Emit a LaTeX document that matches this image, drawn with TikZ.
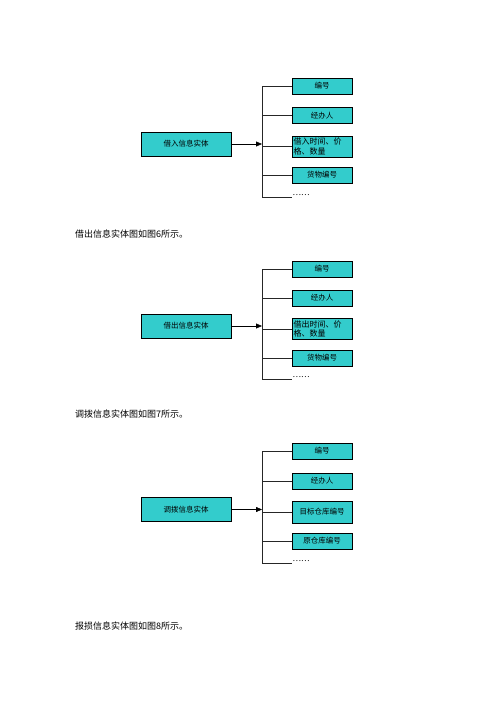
\documentclass[tikz,border=0pt]{standalone}
\usepackage{fontspec}
\setmainfont{Noto Sans CJK SC}
\usetikzlibrary{arrows.meta}
\definecolor{boxteal}{RGB}{51,204,204}

\begin{document}
\begin{tikzpicture}[x=1pt,y=-1pt,
  entity/.style={draw,fill=boxteal,minimum width=90pt,minimum height=24pt,inner sep=0pt,font=\fontsize{7.5}{9}\selectfont},
  attr/.style={draw,fill=boxteal,minimum width=60pt,minimum height=16pt,inner sep=0pt,font=\fontsize{7.5}{9}\selectfont},
  attrtall/.style={attr,minimum height=21pt,text width=57pt,align=left,font=\fontsize{8}{9.5}\selectfont},
  more/.style={anchor=west,inner sep=0.5pt,font=\fontsize{8}{9}\selectfont},
  branch/.style={line width=0.8pt,black!85},
  caption/.style={anchor=west,inner sep=0pt,font=\fontsize{9}{11}\selectfont}]
  \useasboundingbox (0,0) rectangle (500,707);

  % borrow-in entity
  \node[entity] (jr) at (186,144) {借入信息实体};
  \node[attr] (jr1) at (322,86) {编号};
  \node[attr] (jr2) at (322,115.5) {经办人};
  \node[attrtall] (jr3) at (322,146.5) {借入时间、价\\格、数量};
  \node[attr] (jr4) at (322,175) {货物编号};
  \node[more] (jr5) at (292,195) {……};
  \coordinate (jrt) at (262,86);
  \coordinate (jrb) at (262,197);
  \draw[branch] (jrt) -- (jrb);
  \draw[branch] (jr1.west -| jrt) -- (jr1.west);
  \draw[branch] (jr2.west -| jrt) -- (jr2.west);
  \draw[branch] (jr3.west -| jrt) -- (jr3.west);
  \draw[branch] (jr4.west -| jrt) -- (jr4.west);
  \draw[branch] (jrb) -- (jrb -| jr5.west);
  \draw[-{Triangle[length=6pt,width=5pt]}] (jr.east) -- (jr.east -| jrt);

  \node[caption] (cap6) at (75,234) {借出信息实体图如图6所示。};

  % borrow-out entity
  \node[entity] (jc) at (186,326) {借出信息实体};
  \node[attr] (jc1) at (322,269) {编号};
  \node[attr] (jc2) at (322,298) {经办人};
  \node[attrtall] (jc3) at (322,329) {借出时间、价\\格、数量};
  \node[attr] (jc4) at (322,358) {货物编号};
  \node[more] (jc5) at (292,377) {……};
  \coordinate (jct) at (262,269);
  \coordinate (jcb) at (262,379);
  \draw[branch] (jct) -- (jcb);
  \draw[branch] (jc1.west -| jct) -- (jc1.west);
  \draw[branch] (jc2.west -| jct) -- (jc2.west);
  \draw[branch] (jc3.west -| jct) -- (jc3.west);
  \draw[branch] (jc4.west -| jct) -- (jc4.west);
  \draw[branch] (jcb) -- (jcb -| jc5.west);
  \draw[-{Triangle[length=6pt,width=5pt]}] (jc.east) -- (jc.east -| jct);

  \node[caption] (cap7) at (75,414) {调拨信息实体图如图7所示。};

  % transfer entity
  \node[entity] (db) at (186,509.5) {调拨信息实体};
  \node[attr] (db1) at (322,451) {编号};
  \node[attr] (db2) at (322,481) {经办人};
  \node[attr,minimum height=22pt] (db3) at (322,512) {目标仓库编号};
  \node[attr] (db4) at (322,541) {原仓库编号};
  \node[more] (db5) at (292,561) {……};
  \coordinate (dbt) at (262,451);
  \coordinate (dbb) at (262,563);
  \draw[branch] (dbt) -- (dbb);
  \draw[branch] (db1.west -| dbt) -- (db1.west);
  \draw[branch] (db2.west -| dbt) -- (db2.west);
  \draw[branch] (db3.west -| dbt) -- (db3.west);
  \draw[branch] (db4.west -| dbt) -- (db4.west);
  \draw[branch] (dbb) -- (dbb -| db5.west);
  \draw[-{Triangle[length=6pt,width=5pt]}] (db.east) -- (db.east -| dbt);

  \node[caption] (cap8) at (75,626) {报损信息实体图如图8所示。};
\end{tikzpicture}
\end{document}
